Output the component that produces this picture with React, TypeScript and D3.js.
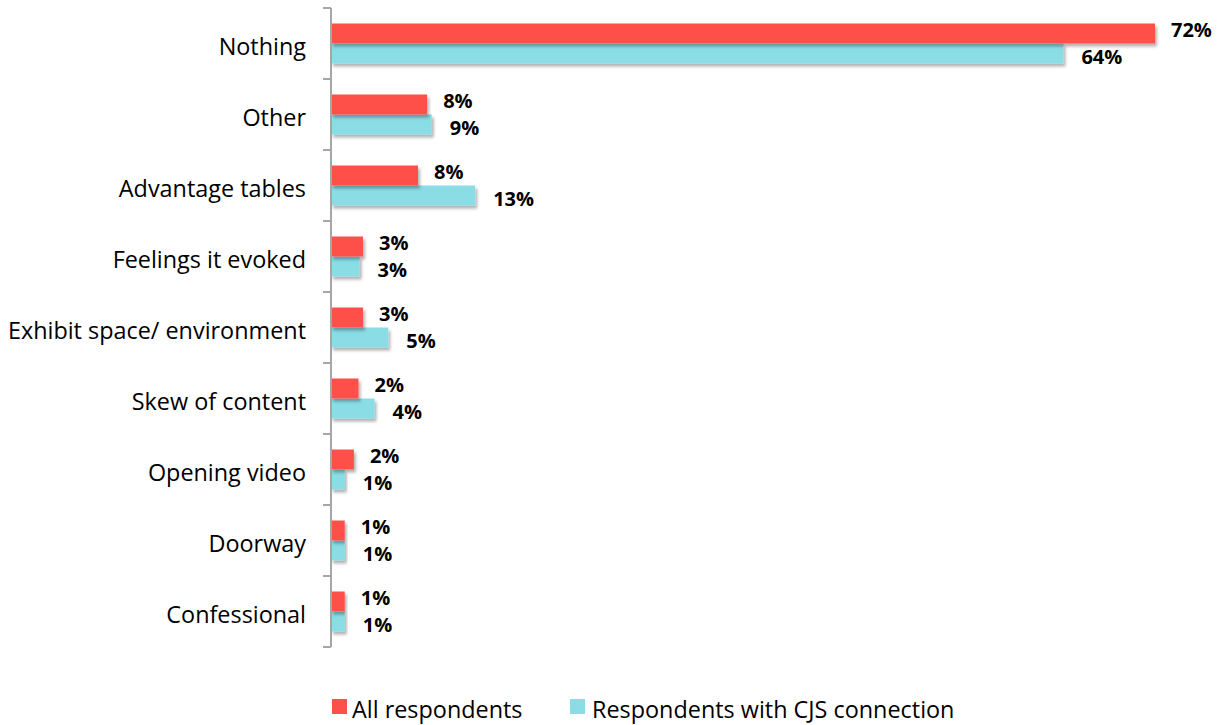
import React from "react";
import * as d3 from "d3";

const categories = [
  "Nothing",
  "Other",
  "Advantage tables",
  "Feelings it evoked",
  "Exhibit space/ environment",
  "Skew of content",
  "Opening video",
  "Doorway",
  "Confessional",
];
const allRespondents = [72, 8.4, 7.6, 2.8, 2.8, 2.4, 2.0, 1.2, 1.2];
const cjsRespondents = [64, 8.8, 12.6, 2.5, 5.0, 3.8, 1.2, 1.2, 1.2];
const seriesNames = ["All respondents", "Respondents with CJS connection"];

const W = 1220;
const H = 725;
const RED = "#FF4F4A";
const CYAN = "#8ADCE5";
const FONT = "'Open Sans', 'Noto Sans', sans-serif";

export default function App() {
  const axisX = 331;
  const x = d3.scaleLinear().domain([0, 72]).range([axisX, 1155]);
  const y = d3
    .scaleBand<string>()
    .domain(categories)
    .range([8, 647])
    .paddingInner(0)
    .paddingOuter(0);
  const band = y.bandwidth();
  const barH = 20;
  const pad = (band - 2 * barH) / 2;

  return (
    <svg
      width={W}
      height={H}
      style={{ position: "absolute", left: 0, top: 0, display: "block", background: "#fff" }}
    >
      <defs>
        <filter id="sh" x="-10%" y="-30%" width="130%" height="180%">
          <feDropShadow dx="2" dy="3" stdDeviation="1.8" floodColor="#000" floodOpacity="0.3" />
        </filter>
      </defs>
      {categories.map((c, i) => {
        const y0 = (y(c) as number) + pad;
        const vR = allRespondents[i];
        const vC = cjsRespondents[i];
        return (
          <g key={c}>
            <rect x={axisX} y={y0 + barH} width={x(vC) - axisX} height={barH} fill={CYAN} filter="url(#sh)" />
            <rect x={axisX} y={y0} width={x(vR) - axisX} height={barH} fill={RED} filter="url(#sh)" />
            <text
              x={x(vR) + 16}
              y={y0 + barH / 2 - 4}
              dominantBaseline="central"
              fontFamily={FONT}
              fontWeight="bold"
              fontSize={20}
              fill="#000"
            >
              {Math.round(vR) + "%"}
            </text>
            <text
              x={x(vC) + 18}
              y={y0 + barH + barH / 2 + 3}
              dominantBaseline="central"
              fontFamily={FONT}
              fontWeight="bold"
              fontSize={20}
              fill="#000"
            >
              {Math.round(vC) + "%"}
            </text>
            <text
              x={306}
              y={(y(c) as number) + band / 2 + 2}
              textAnchor="end"
              dominantBaseline="central"
              fontFamily={FONT}
              fontSize={23.4}
              fill="#000"
            >
              {c}
            </text>
          </g>
        );
      })}
      {/* axis */}
      <line x1={axisX} x2={axisX} y1={8} y2={647} stroke="#A6A6A6" strokeWidth={2} />
      {d3.range(categories.length + 1).map((k) => {
        const ty = 8 + k * band;
        return <line key={k} x1={323} x2={axisX} y1={ty} y2={ty} stroke="#A6A6A6" strokeWidth={2} />;
      })}
      {/* legend */}
      <rect x={332} y={699} width={15} height={15} fill={RED} />
      <text x={352} y={709} dominantBaseline="central" fontFamily={FONT} fontSize={23.4} fill="#000">
        {seriesNames[0]}
      </text>
      <rect x={570} y={699} width={15} height={15} fill={CYAN} />
      <text x={592} y={709} dominantBaseline="central" fontFamily={FONT} fontSize={23.4} fill="#000">
        {seriesNames[1]}
      </text>
    </svg>
  );
}
